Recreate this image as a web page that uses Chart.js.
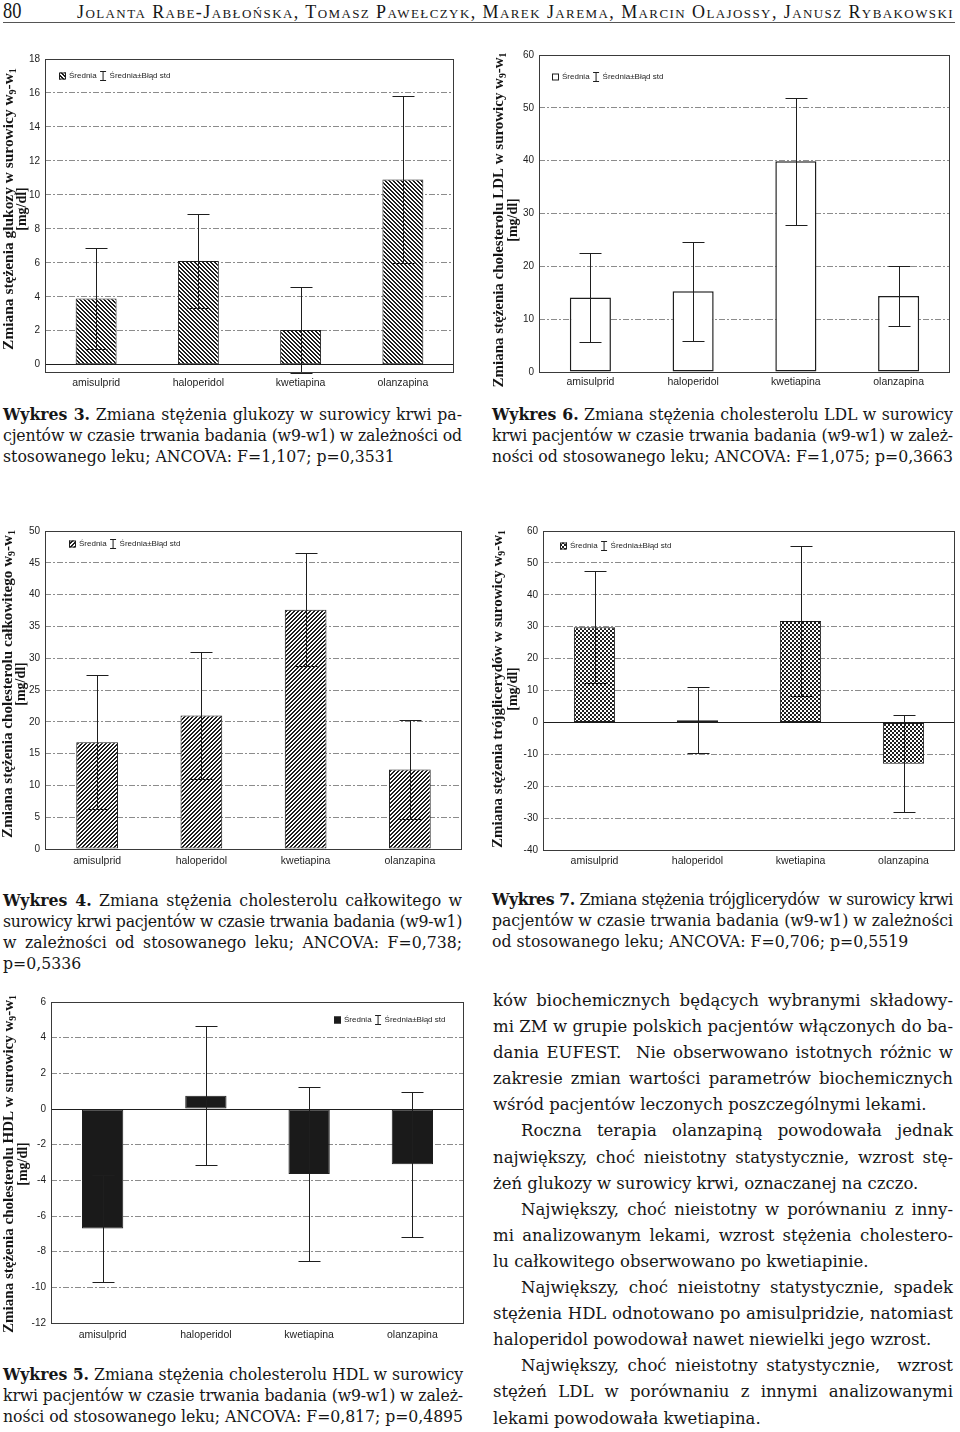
<!DOCTYPE html>
<html lang="pl">
<head>
<meta charset="utf-8">
<title>Wykresy 3-7</title>
<script src="https://cdn.jsdelivr.net/npm/chart.js@4.4.1/dist/chart.umd.min.js"></script>
<style>
  html, body { margin: 0; padding: 0; background: #fff; }
  #page { position: relative; width: 960px; height: 1432px; overflow: hidden; color: #161616; }
  canvas { position: absolute; }
  .line { position: absolute; white-space: pre; font-family: "DejaVu Serif", serif; }
  #num { position: absolute; left: 3px; top: 0; font: 23px/22px "Liberation Serif", serif; transform: scaleX(0.8); transform-origin: left top; }
  #authors { position: absolute; left: 77px; top: 1px; font: 18px/22px "Liberation Serif", serif; font-variant: small-caps; white-space: pre; }
  #rule { position: absolute; left: 3px; top: 22px; width: 952px; height: 1px; background: #555; }
</style>
</head>
<body>
<div id="page">
  <div id="num">80</div>
  <div id="authors">Jolanta Rabe-Jabłońska, Tomasz Pawełczyk, Marek Jarema, Marcin Olajossy, Janusz Rybakowski</div>
  <div id="rule"></div>
  <canvas id="c3"></canvas>
  <canvas id="c6"></canvas>
  <canvas id="c4"></canvas>
  <canvas id="c7"></canvas>
  <canvas id="c5"></canvas>
</div>
<script>
const drugs = ['amisulprid', 'haloperidol', 'kwetiapina', 'olanzapina'];
const legendLabels = ['Średnia', 'Średnia±Błąd std'];

// Wykres 3 - glukoza
const glucoseMean = [3.9, 6.1, 2.05, 10.9];
const glucoseErr = [2.95, 2.76, 2.52, 4.92];
const glucoseAxis = [-0.43, 18, 2];

// Wykres 6 - cholesterol LDL
const ldlMean = [14.1, 15.3, 39.9, 14.4];
const ldlErr = [8.5, 9.4, 12.0, 5.6];
const ldlAxis = [0, 60, 10];

// Wykres 4 - cholesterol calkowity
const tcMean = [16.8, 21.0, 37.6, 12.5];
const tcErr = [10.5, 10.0, 8.9, 7.8];
const tcAxis = [0, 50, 5];

// Wykres 7 - trojglicerydy
const tgMean = [29.8, 0.7, 31.8, -13.0];
const tgErr = [17.6, 10.3, 23.5, 15.2];
const tgAxis = [-40, 60, 10];

// Wykres 5 - cholesterol HDL
const hdlMean = [-6.7, 0.75, -3.65, -3.1];
const hdlErr = [3.02, 3.9, 4.88, 4.05];
const hdlAxis = [-12, 6, 2];

const INK = '#1e1e1e';
const SANS = "'Liberation Sans', Arial, sans-serif";

function pattern(ctx, kind) {
  if (kind === 'white') return '#ffffff';
  if (kind === 'black') return '#1a1a1a';
  const c = document.createElement('canvas');
  c.width = c.height = 4;
  const g = c.getContext('2d');
  g.fillStyle = '#fff';
  g.fillRect(0, 0, 4, 4);
  g.fillStyle = INK;
  for (let y = 0; y < 4; y++) {
    for (let x = 0; x < 4; x++) {
      let on;
      if (kind === 'back') on = ((x - y + 8) % 4) < 2;
      else if (kind === 'fwd') on = ((x + y) % 4) < 2;
      else on = (((x >> 1) + (y >> 1)) % 2) === 0;
      if (on) g.fillRect(x, y, 1, 1);
    }
  }
  return ctx.createPattern(c, 'repeat');
}

// rotated axis title; subscript digits drawn smaller, size fitted to the printed length
function drawRotated(ctx, text, cx, cy, len) {
  const subs = '₀₁₂₃₄₅₆₇₈₉';
  const runs = [];
  for (const ch of text) {
    const k = subs.indexOf(ch);
    const t = k >= 0 ? String(k) : ch;
    const last = runs[runs.length - 1];
    if (last && last.sub === (k >= 0)) last.t += t;
    else runs.push({ t, sub: k >= 0 });
  }
  const measure = size => {
    let total = 0;
    runs.forEach(r => {
      ctx.font = `bold ${r.sub ? size * 0.65 : size}px "Liberation Serif"`;
      r.w = ctx.measureText(r.t).width;
      total += r.w;
    });
    return total;
  };
  let size = 14;
  if (len) size = Math.min(16, 14 * len / measure(14));
  const total = measure(size);
  ctx.save();
  ctx.translate(cx, cy);
  ctx.rotate(-Math.PI / 2);
  ctx.textBaseline = 'middle';
  ctx.fillStyle = '#141414';
  let x = -total / 2;
  runs.forEach(r => {
    ctx.font = `bold ${r.sub ? size * 0.65 : size}px "Liberation Serif"`;
    ctx.fillText(r.t, x, r.sub ? 4 : 0);
    x += r.w;
  });
  ctx.restore();
}

function makeChart(s) {
  const [bx, by, bw, bh] = s.box;
  const [al, at, ar, ab] = s.area;
  const canvas = document.getElementById(s.id);
  canvas.width = bw;
  canvas.height = bh;
  canvas.style.left = bx + 'px';
  canvas.style.top = by + 'px';
  const fill = pattern(canvas.getContext('2d'), s.fill);

  const deco = {
    id: 'deco',
    afterDatasetsDraw(chart) {
      const { ctx, scales: { y } } = chart;
      const bars = chart.getDatasetMeta(0).data;
      ctx.save();
      ctx.strokeStyle = INK;
      ctx.lineWidth = 1;
      bars.forEach((bar, i) => {
        const x = Math.round(bar.x) + 0.5;
        const top = Math.round(y.getPixelForValue(s.mean[i] + s.err[i])) + 0.5;
        const bot = Math.round(y.getPixelForValue(s.mean[i] - s.err[i])) + 0.5;
        ctx.beginPath();
        ctx.moveTo(x, top); ctx.lineTo(x, bot);
        ctx.moveTo(x - 11, top); ctx.lineTo(x + 11, top);
        ctx.moveTo(x - 11, bot); ctx.lineTo(x + 11, bot);
        ctx.stroke();
      });
      ctx.restore();
    },
    afterDraw(chart) {
      const { ctx, chartArea: a } = chart;
      ctx.save();
      ctx.strokeStyle = '#3a3a3a';
      ctx.lineWidth = 1;
      ctx.strokeRect(Math.round(a.left) + 0.5, Math.round(a.top) + 0.5,
        Math.round(a.right - a.left) - 1, Math.round(a.bottom - a.top));

      // legend
      const lx = s.legend[0] - bx, ly = s.legend[1] - by;
      ctx.fillStyle = fill;
      ctx.fillRect(lx, ly - 3.5, 7, 7);
      ctx.strokeStyle = INK;
      ctx.strokeRect(lx + 0.5, ly - 3, 6, 6);
      ctx.font = '8px ' + SANS;
      ctx.fillStyle = INK;
      ctx.textBaseline = 'middle';
      let x = lx + 10;
      ctx.fillText(legendLabels[0], x, ly);
      x += ctx.measureText(legendLabels[0]).width + 3;
      ctx.beginPath();
      ctx.moveTo(x + 3.5, ly - 4); ctx.lineTo(x + 3.5, ly + 4);
      ctx.moveTo(x + 0.5, ly - 4.5); ctx.lineTo(x + 6.5, ly - 4.5);
      ctx.moveTo(x + 0.5, ly + 4.5); ctx.lineTo(x + 6.5, ly + 4.5);
      ctx.stroke();
      ctx.fillText(legendLabels[1], x + 10, ly);

      // axis title
      drawRotated(ctx, s.title[0], s.titleX[0] - bx, s.titleY - by, s.titleLen);
      drawRotated(ctx, s.title[1], s.titleX[1] - bx, s.titleY - by, 0);
      ctx.restore();
    }
  };

  return new Chart(canvas, {
    type: 'bar',
    data: {
      labels: drugs,
      datasets: [{
        data: s.mean,
        backgroundColor: fill,
        borderColor: INK,
        borderWidth: s.borderWidth || 1,
        borderSkipped: false,
        barPercentage: 0.4,
        categoryPercentage: 1
      }]
    },
    options: {
      responsive: false,
      animation: false,
      devicePixelRatio: 1,
      events: [],
      layout: { padding: { left: 0, top: at - by, right: bx + bw - ar, bottom: 0 } },
      plugins: { legend: { display: false }, tooltip: { enabled: false } },
      scales: {
        x: {
          grid: { display: false, drawTicks: false },
          border: { display: false },
          ticks: { color: INK, font: { family: SANS, size: 10.5 }, padding: s.labelPad, maxRotation: 0, autoSkip: false },
          afterFit(scale) { scale.height = by + bh - ab; }
        },
        y: {
          min: s.axis[0],
          max: s.axis[1],
          ticks: { stepSize: s.axis[2], includeBounds: false, color: INK, font: { family: SANS, size: 10 }, padding: 5 },
          grid: {
            drawTicks: false,
            lineWidth: 1,
            color: c => (c.tick && c.tick.value === 0) ? INK : '#8c8c8c'
          },
          border: {
            display: false,
            dash: c => (c.tick && c.tick.value === 0) ? [] : [6, 2, 2, 2]
          },
          afterFit(scale) { scale.width = al - bx; }
        }
      }
    },
    plugins: [deco]
  });
}

makeChart({
  id: 'c3', box: [0, 40, 470, 352], area: [45, 59, 454, 372], labelPad: 5,
  mean: glucoseMean, err: glucoseErr, axis: glucoseAxis, fill: 'back',
  title: ['Zmiana stężenia glukozy w surowicy w₉-w₁', '[mg/dl]'], titleX: [9, 22], titleY: 209, titleLen: 282,
  legend: [59, 76]
});
makeChart({
  id: 'c6', box: [480, 40, 480, 352], area: [539, 55, 950, 372], labelPad: 4,
  mean: ldlMean, err: ldlErr, axis: ldlAxis, fill: 'white', borderWidth: 1.5,
  title: ['Zmiana stężenia cholesterolu LDL w surowicy w₉-w₁', '[mg/dl]'], titleX: [499, 513], titleY: 220, titleLen: 335,
  legend: [552, 77]
});
makeChart({
  id: 'c4', box: [0, 520, 470, 352], area: [45, 528, 462, 849], labelPad: 6,
  mean: tcMean, err: tcErr, axis: tcAxis, fill: 'fwd',
  title: ['Zmiana stężenia cholesterolu całkowitego w₉-w₁', '[mg/dl]'], titleX: [8, 21], titleY: 684, titleLen: 308,
  legend: [69, 544]
});
makeChart({
  id: 'c7', box: [480, 520, 480, 352], area: [543, 529, 955, 850], labelPad: 5,
  mean: tgMean, err: tgErr, axis: tgAxis, fill: 'check',
  title: ['Zmiana stężenia trójglicerydów w surowicy w₉-w₁', '[mg/dl]'], titleX: [498, 513], titleY: 689, titleLen: 318,
  legend: [560, 546]
});
makeChart({
  id: 'c5', box: [0, 985, 470, 362], area: [51, 1002, 464, 1323], labelPad: 6,
  mean: hdlMean, err: hdlErr, axis: hdlAxis, fill: 'black',
  title: ['Zmiana stężenia cholesterolu HDL w surowicy w₉-w₁', '[mg/dl]'], titleX: [9, 23], titleY: 1164, titleLen: 338,
  legend: [334, 1020]
});

// text: captions and body, line by line as in the print
const blocks = [
  { x: 3, y: 415, w: 459, lh: 21, lines: [
    ['<b>Wykres 3.</b> Zmiana stężenia glukozy w surowicy krwi pa-', 1],
    ['cjentów w czasie trwania badania (w9-w1) w zależności od', 1],
    ['stosowanego leku; ANCOVA: F=1,107; p=0,3531', 0]] },
  { x: 492, y: 415, w: 461, lh: 21, lines: [
    ['<b>Wykres 6.</b> Zmiana stężenia cholesterolu LDL w surowicy', 1],
    ['krwi pacjentów w czasie trwania badania (w9-w1) w zależ-', 1],
    ['ności od stosowanego leku; ANCOVA: F=1,075; p=0,3663', 1]] },
  { x: 3, y: 901, w: 459, lh: 21, lines: [
    ['<b>Wykres 4.</b> Zmiana stężenia cholesterolu całkowitego w', 1],
    ['surowicy krwi pacjentów w czasie trwania badania (w9-w1)', 1],
    ['w zależności od stosowanego leku; ANCOVA: F=0,738;', 1],
    ['p=0,5336', 0]] },
  { x: 492, y: 900, w: 461, lh: 21, lines: [
    ['<b>Wykres 7.</b> Zmiana stężenia trójglicerydów  w surowicy krwi', 1],
    ['pacjentów w czasie trwania badania (w9-w1) w zależności', 1],
    ['od stosowanego leku; ANCOVA: F=0,706; p=0,5519', 0]] },
  { x: 3, y: 1375, w: 460, lh: 21, lines: [
    ['<b>Wykres 5.</b> Zmiana stężenia cholesterolu HDL w surowicy', 1],
    ['krwi pacjentów w czasie trwania badania (w9-w1) w zależ-', 1],
    ['ności od stosowanego leku; ANCOVA: F=0,817; p=0,4895', 1]] },
  { x: 493, y: 1002, w: 460, lh: 26.1, body: true, lines: [
    ['ków biochemicznych będących wybranymi składowy-', 1],
    ['mi ZM w grupie polskich pacjentów włączonych do ba-', 1],
    ['dania EUFEST.  Nie obserwowano istotnych różnic w', 1],
    ['zakresie zmian wartości parametrów biochemicznych', 1],
    ['wśród pacjentów leczonych poszczególnymi lekami.', 0],
    ['Roczna terapia olanzapiną powodowała jednak', 1, 28],
    ['największy, choć nieistotny statystycznie, wzrost stę-', 1],
    ['żeń glukozy w surowicy krwi, oznaczanej na czczo.', 0],
    ['Największy, choć nieistotny w porównaniu z inny-', 1, 28],
    ['mi analizowanym lekami, wzrost stężenia cholestero-', 1],
    ['lu całkowitego obserwowano po kwetiapinie.', 0],
    ['Największy, choć nieistotny statystycznie, spadek', 1, 28],
    ['stężenia HDL odnotowano po amisulpridzie, natomiast', 1],
    ['haloperidol powodował nawet niewielki jego wzrost.', 0],
    ['Największy, choć nieistotny statystycznie,  wzrost', 1, 28],
    ['stężeń LDL w porównaniu z innymi analizowanymi', 1],
    ['lekami powodowała kwetiapina.', 0]] }
];

const mc = document.createElement('canvas').getContext('2d');
function widthAt(text, px) {
  mc.font = px + 'px "DejaVu Serif"';
  return mc.measureText(text).width;
}
const bodySize = 100 * 434 / widthAt('wśród pacjentów leczonych poszczególnymi lekami.', 100);
const capSize = 100 * (387 + 421) /
  (widthAt('stosowanego leku; ANCOVA: F=1,107; p=0,3531', 100) + widthAt('od stosowanego leku; ANCOVA: F=0,706; p=0,5519', 100));

const page = document.getElementById('page');
blocks.forEach(b => {
  const size = b.body ? bodySize : capSize;
  b.lines.forEach(([html, justify, indent = 0], i) => {
    const d = document.createElement('div');
    d.className = 'line';
    d.style.left = (b.x + indent) + 'px';
    d.style.top = (b.y + i * b.lh - b.lh / 2 - 1) + 'px';
    d.style.fontSize = size + 'px';
    d.style.lineHeight = b.lh + 'px';
    d.innerHTML = html;
    page.appendChild(d);
    if (justify) {
      const w0 = d.getBoundingClientRect().width;
      const extra = b.w - indent - w0;
      const n = (d.textContent.match(/ /g) || []).length;
      if (extra >= 0 && n) d.style.wordSpacing = (extra / n) + 'px';
      else if (extra < 0) d.style.letterSpacing = (extra / d.textContent.length) + 'px';
    }
  });
});

const authors = document.getElementById('authors');
const aw = authors.getBoundingClientRect().width;
authors.style.letterSpacing = ((877 - aw) / authors.textContent.length) + 'px';
</script>
</body>
</html>
